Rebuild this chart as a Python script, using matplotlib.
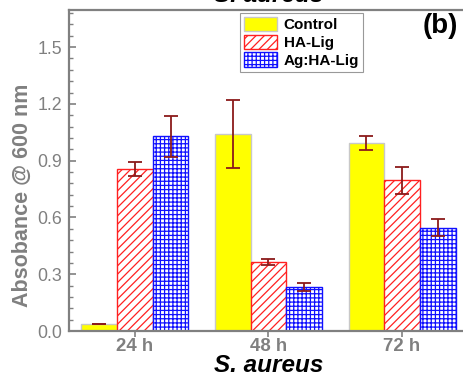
import numpy as np
import matplotlib
matplotlib.use("Agg")
import matplotlib.pyplot as plt
from matplotlib.ticker import MultipleLocator

plt.rcParams['font.family'] = ['Liberation Sans', 'DejaVu Sans']
plt.rcParams['hatch.linewidth'] = 0.9

# Data
times = ["24 h", "48 h", "72 h"]
series = ["Control", "HA-Lig", "Ag:HA-Lig"]
control = [0.037, 1.04, 0.993]
control_err = [0.0, 0.18, 0.037]
ha_lig = [0.856, 0.366, 0.796]
ha_lig_err = [0.037, 0.015, 0.07]
ag_ha_lig = [1.028, 0.232, 0.546]
ag_ha_lig_err = [0.11, 0.02, 0.044]

gray = "#808080"
err_color = "#8B1A1A"

fig = plt.figure(figsize=(4.64, 3.76), dpi=100)
ax = fig.add_axes([69 / 464, 45 / 376, 399 / 464, 321 / 376])

x = np.arange(len(times))
w = 0.267

styles = [
    dict(facecolor="#FFFF00", edgecolor="#C8C8C8", hatch=None),
    dict(facecolor="white", edgecolor="#FF2020", hatch="////"),
    dict(facecolor="white", edgecolor="#1010FF", hatch="++++"),
]
vals = [control, ha_lig, ag_ha_lig]
errs = [control_err, ha_lig_err, ag_ha_lig_err]

for i, (v, e, st, name) in enumerate(zip(vals, errs, styles, series)):
    pos = x + (i - 1) * w
    ax.bar(pos, v, width=w, facecolor=st["facecolor"], edgecolor=st["edgecolor"],
           hatch=st["hatch"], linewidth=1.0, label=name, zorder=2)
    ax.errorbar(pos, v, yerr=e, fmt="none", ecolor=err_color, elinewidth=1.3,
                capsize=4.7, capthick=1.3, zorder=3)

ax.set_xlim(-0.494, 2.494)
ax.set_ylim(0, 1.696)
ax.set_xticks(x)
ax.set_xticklabels(times, fontsize=13.4, fontweight="bold", color=gray)
ax.yaxis.set_major_locator(MultipleLocator(0.3))
ax.yaxis.set_minor_locator(MultipleLocator(0.06))
ax.set_yticks([0.0, 0.3, 0.6, 0.9, 1.2, 1.5])
ax.set_yticklabels(["0.0", "0.3", "0.6", "0.9", "1.2", "1.5"], fontsize=12.8, color=gray)

ax.tick_params(axis="y", which="major", direction="in", length=5, width=1.2, color=gray, pad=5)
ax.tick_params(axis="y", which="minor", direction="in", length=3, width=1.0, color=gray)
ax.tick_params(axis="x", which="major", direction="out", length=4, width=1.2, color=gray, pad=1)

for sp in ax.spines.values():
    sp.set_color(gray)
    sp.set_linewidth(1.6)

ax.set_ylabel("Absobance @ 600 nm", fontsize=15.5, fontweight="bold", color=gray)
ax.yaxis.set_label_coords(-0.09, 0.424)
ax.set_xlabel("S. aureus", fontsize=17.5, fontweight="bold", fontstyle="italic", color="black", labelpad=-1)
ax.set_title("S. aureus", fontsize=17.5, fontweight="bold", fontstyle="italic", pad=6)

ax.text(0.887, 0.928, "(b)", transform=ax.transAxes, fontsize=20, fontweight="bold",
        ha="left", va="baseline")

leg = ax.legend(loc="upper left", bbox_to_anchor=(0.4286, 0.9907), borderaxespad=0,
                prop=dict(size=11, weight="bold"), frameon=True, fancybox=False,
                edgecolor=gray, handlelength=2.2, handleheight=1.1, labelspacing=0.15,
                borderpad=0.25, handletextpad=0.4)
leg.get_frame().set_linewidth(0.8)

fig.savefig("out.png", dpi=100)
